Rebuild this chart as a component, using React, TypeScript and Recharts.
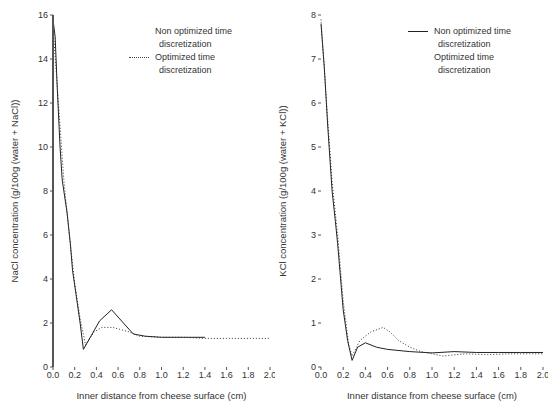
import React from 'react';
import { LineChart, Line, XAxis, YAxis, Label } from 'recharts';

// NaCl panel (left)
const naclNonOptX = [0, 0.02, 0.04, 0.065, 0.085, 0.13, 0.16, 0.18, 0.25, 0.28, 0.43, 0.54, 0.74, 0.85, 1.0, 1.2, 1.4];
const naclNonOptY = [15.8, 15.0, 12.6, 10.0, 8.5, 7.0, 5.6, 4.4, 2.0, 0.8, 2.1, 2.6, 1.5, 1.4, 1.35, 1.35, 1.35];
const naclOptX = [0, 0.05, 0.1, 0.15, 0.2, 0.25, 0.3, 0.38, 0.45, 0.55, 0.7, 0.8, 1.0, 1.2, 1.4, 1.6, 1.8, 2.0];
const naclOptY = [15.5, 12.0, 8.5, 6.0, 3.8, 2.2, 1.0, 1.6, 1.8, 1.8, 1.6, 1.4, 1.35, 1.35, 1.3, 1.3, 1.3, 1.3];

// KCl panel (right)
const kclNonOptX = [0, 0.03, 0.06, 0.1, 0.13, 0.15, 0.17, 0.2, 0.24, 0.28, 0.33, 0.4, 0.5, 0.6, 0.8, 1.0, 1.2, 1.4, 1.6, 1.8, 2.0];
const kclNonOptY = [7.8, 6.8, 5.5, 4.0, 3.3, 2.8, 2.2, 1.3, 0.6, 0.15, 0.45, 0.55, 0.45, 0.4, 0.35, 0.32, 0.35, 0.33, 0.33, 0.33, 0.33];
const kclOptX = [0, 0.05, 0.1, 0.15, 0.2, 0.25, 0.28, 0.35, 0.45, 0.56, 0.62, 0.7, 0.8, 0.9, 1.0, 1.1, 1.3, 1.5, 1.7, 2.0];
const kclOptY = [7.9, 6.0, 4.2, 3.0, 1.5, 0.5, 0.25, 0.6, 0.8, 0.9, 0.8, 0.6, 0.45, 0.35, 0.3, 0.25, 0.3, 0.28, 0.3, 0.3];

const xTicks = [0, 0.2, 0.4, 0.6, 0.8, 1.0, 1.2, 1.4, 1.6, 1.8, 2.0];
const naclTicks = [0, 2, 4, 6, 8, 10, 12, 14, 16];
const kclTicks = [0, 1, 2, 3, 4, 5, 6, 7, 8];

const seriesNames = ['Non optimized time discretization', 'Optimized time discretization'];

const toPoints = (xs: number[], ys: number[]) => xs.map((x, i) => ({ x, y: ys[i] }));

const FONT = '"Liberation Sans", Arial, sans-serif';
const tickStyle = { fill: '#333', fontSize: 9, fontFamily: FONT };

const LegendBox = ({ showSolid, showDotted }: { showSolid: boolean; showDotted: boolean }) => (
  <div style={{ fontFamily: FONT, fontSize: 9, color: '#333', lineHeight: '13px' }}>
    {seriesNames.map((name, i) => {
      const first = name.replace(' discretization', '');
      const show = i === 0 ? showSolid : showDotted;
      return (
        <div key={name} style={{ display: 'flex' }}>
          <div style={{ width: 26, paddingTop: 6 }}>
            {show && (
              <div style={{ width: 20, borderTop: i === 0 ? '1px solid #222' : '1px dotted #444' }} />
            )}
          </div>
          <div>
            <div>{first}</div>
            <div style={{ paddingLeft: 4 }}>discretization</div>
          </div>
        </div>
      );
    })}
  </div>
);

interface PanelProps {
  nonOpt: { x: number; y: number }[];
  opt: { x: number; y: number }[];
  yTicks: number[];
  yMax: number;
  yLabel: string;
  left: number;
  width: number;
  frame: boolean;
  legendLeft: number;
  legendSolid: boolean;
  legendDotted: boolean;
}

const Panel = ({ nonOpt, opt, yTicks, yMax, yLabel, left, width, frame, legendLeft, legendSolid, legendDotted }: PanelProps) => (
  <div style={{ position: 'absolute', left, top: 0 }}>
    <LineChart width={width} height={407} margin={{ top: 15, right: 5, bottom: 22, left: 13 }}>
      <XAxis
        xAxisId="b"
        type="number"
        dataKey="x"
        domain={[0, 2]}
        ticks={xTicks}
        tickFormatter={(v: number) => v.toFixed(1)}
        tick={tickStyle}
        axisLine={false}
        tickSize={3}
        tickLine={{ stroke: '#555' }}
        interval={0}
        height={18}
      >
        <Label value="Inner distance from cheese surface (cm)" position="insideBottom" offset={-14} style={{ ...tickStyle, fontSize: 9.5 }} />
      </XAxis>
      <XAxis
        xAxisId="t"
        orientation="top"
        type="number"
        dataKey="x"
        domain={[0, 2]}
        ticks={xTicks}
        tick={false}
        axisLine={false}
        tickSize={3}
        tickLine={{ stroke: '#555' }}
        height={0}
      />
      <YAxis
        yAxisId="l"
        type="number"
        dataKey="y"
        domain={[0, yMax]}
        ticks={yTicks}
        tick={tickStyle}
        axisLine={frame ? { stroke: '#555', strokeWidth: 2 } : false}
        tickSize={3}
        tickLine={{ stroke: '#555' }}
        width={40}
      >
        <Label value={yLabel} angle={-90} position="insideLeft" offset={2} style={{ ...tickStyle, fontSize: 9.5, textAnchor: 'middle' }} />
      </YAxis>
      <YAxis
        yAxisId="r"
        orientation="right"
        type="number"
        domain={[0, yMax]}
        ticks={yTicks}
        tick={false}
        axisLine={frame ? { stroke: '#555', strokeWidth: 2 } : false}
        tickSize={3}
        tickLine={{ stroke: '#555' }}
        width={0}
      />
      <Line
        xAxisId="b"
        yAxisId="l"
        data={nonOpt}
        dataKey="y"
        type="linear"
        stroke="#222"
        strokeWidth={1}
        dot={false}
        isAnimationActive={false}
      />
      <Line
        xAxisId="b"
        yAxisId="l"
        data={opt}
        dataKey="y"
        type="linear"
        stroke="#333"
        strokeWidth={1}
        strokeDasharray="1 2"
        dot={false}
        isAnimationActive={false}
      />
    </LineChart>
    <div style={{ position: 'absolute', top: 25, left: legendLeft }}>
      <LegendBox showSolid={legendSolid} showDotted={legendDotted} />
    </div>
  </div>
);

export default function App() {
  return (
    <div style={{ position: 'absolute', left: 0, top: 0, width: 550, height: 407, background: '#fff', overflow: 'hidden' }}>
      <Panel
        nonOpt={toPoints(naclNonOptX, naclNonOptY)}
        opt={toPoints(naclOptX, naclOptY)}
        yTicks={naclTicks}
        yMax={16}
        yLabel="NaCl concentration (g/100g (water + NaCl))"
        left={0}
        width={275}
        frame={true}
        legendLeft={129}
        legendSolid={false}
        legendDotted={true}
      />
      <Panel
        nonOpt={toPoints(kclNonOptX, kclNonOptY)}
        opt={toPoints(kclOptX, kclOptY)}
        yTicks={kclTicks}
        yMax={8}
        yLabel="KCl concentration (g/100g (water + KCl))"
        left={268}
        width={280}
        frame={false}
        legendLeft={140}
        legendSolid={true}
        legendDotted={false}
      />
    </div>
  );
}
